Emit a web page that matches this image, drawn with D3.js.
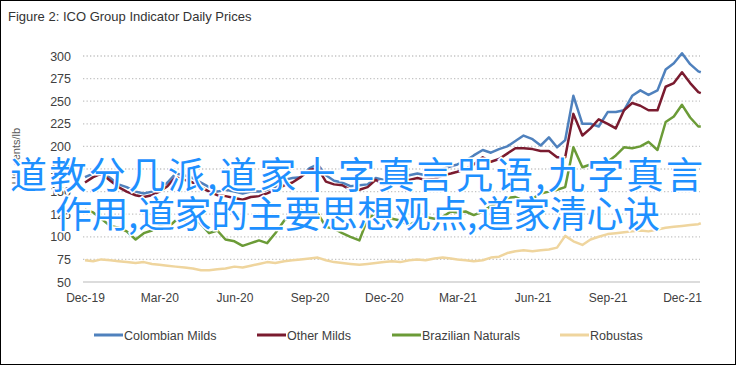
<!DOCTYPE html>
<html>
<head>
<meta charset="utf-8">
<script src="https://cdn.jsdelivr.net/npm/d3@7"></script>
<style>
  body { margin: 0; background: #fff; }
  svg { display: block; font-family: "Liberation Sans", Arial, sans-serif; }
</style>
</head>
<body>
<svg id="chart" width="736" height="365"></svg>
<script>
const dates = [
  '2019-12-01','2019-12-11','2019-12-21',
  '2020-01-01','2020-01-11','2020-01-21','2020-02-01','2020-02-11','2020-02-21',
  '2020-03-01','2020-03-11','2020-03-21','2020-04-01','2020-04-11','2020-04-21',
  '2020-05-01','2020-05-11','2020-05-21','2020-06-01','2020-06-11','2020-06-21',
  '2020-07-01','2020-07-11','2020-07-21','2020-08-01','2020-08-11','2020-08-21',
  '2020-09-01','2020-09-11','2020-09-21','2020-10-01','2020-10-11','2020-10-21',
  '2020-11-01','2020-11-11','2020-11-21','2020-12-01','2020-12-11','2020-12-21',
  '2021-01-01','2021-01-11','2021-01-21','2021-02-01','2021-02-11','2021-02-21',
  '2021-03-01','2021-03-11','2021-03-21','2021-04-01','2021-04-11','2021-04-21',
  '2021-05-01','2021-05-11','2021-05-21','2021-06-01','2021-06-11','2021-06-21',
  '2021-07-01','2021-07-11','2021-07-21','2021-08-01','2021-08-11','2021-08-21',
  '2021-09-01','2021-09-11','2021-09-21','2021-10-01','2021-10-11','2021-10-21',
  '2021-11-01','2021-11-11','2021-11-21','2021-12-01','2021-12-11','2021-12-21',
  '2021-12-24'
];

const colombianMilds = [
  166, 170, 172,
  165, 158, 155, 150, 148, 150, 153, 160, 170, 168, 165, 160, 155, 150, 152,
  150, 148, 150, 150, 152, 155, 163, 165, 166, 176, 180, 168, 162, 160, 156,
  157, 158, 165, 163, 165, 167,
  168, 170, 168, 170, 175, 178, 180, 184, 190, 196, 193, 197, 200, 206, 212,
  208, 201, 210, 199, 207, 256, 225, 225, 222, 238, 238, 240, 256, 262, 257,
  262, 285, 292, 303, 291, 283, 282
];

const otherMilds = [
  160, 166, 170,
  162, 155, 150, 146, 144, 146, 150, 156, 166, 163, 160, 155, 150, 146, 145,
  143, 141, 144, 145, 148, 152, 157, 160, 166, 174, 176, 161, 158, 157, 152,
  152, 155, 163, 158, 160, 162,
  163, 165, 163, 164, 168, 170, 172, 175, 180, 188, 183, 186, 192, 198, 198,
  197, 195, 195, 188, 188, 236, 212, 220, 230, 225, 220, 240, 248, 245, 240,
  240, 266, 270, 282, 270, 260, 259
];

const brazilianNaturals = [
  130, 127, 120,
  112, 110, 106, 97, 104, 107, 112, 110, 118, 118, 124, 114, 104, 107, 97,
  95, 90, 93, 96, 93, 104, 118, 124, 130, 124, 126, 111, 109, 104, 100,
  96, 120, 126, 120, 120, 118,
  113, 118, 122, 120, 122, 128, 127, 128, 124, 128, 134, 138, 143, 144, 140,
  142, 148, 150, 152, 155, 199, 177, 180, 182, 183, 190, 199, 198, 200, 205,
  196, 227, 233, 246, 232, 222, 222
];

const robustas = [
  74, 73, 75,
  74, 73, 72, 71, 72, 70, 69, 68, 67, 66, 65, 63, 63, 64, 65,
  67, 66, 68, 70, 72, 71, 73, 74, 75, 76, 77, 74, 72, 71, 70,
  69, 70, 71, 72, 73, 72,
  74, 75, 74, 76, 77, 76, 75, 74, 73, 74, 77, 78, 82, 84, 85,
  84, 85, 86, 88, 101, 95, 91, 97, 100, 103, 104, 105, 106, 107, 106,
  108, 110, 111, 112, 113, 114, 115
];

const seriesNames = ['Colombian Milds', 'Other Milds', 'Brazilian Naturals', 'Robustas'];
const seriesColors = ['#4f81bd', '#7a1b2f', '#6b9b37', '#efd59e'];
const yTicks = [50, 75, 100, 125, 150, 175, 200, 225, 250, 275, 300];
const xTickLabels = ['Dec-19', 'Mar-20', 'Jun-20', 'Sep-20', 'Dec-20', 'Mar-21', 'Jun-21', 'Sep-21', 'Dec-21'];

const title = 'Figure 2: ICO Group Indicator Daily Prices';
const yLabel = 'US cents/lb';
const overlayLines = ['道教分几派,道家十字真言咒语,九字真言', '作用,道家的主要思想观点,道家清心诀'];

const parse = d3.timeParse('%Y-%m-%d');
const parseTick = d3.timeParse('%b-%y');
const allSeries = [colombianMilds, otherMilds, brazilianNaturals, robustas];

const svg = d3.select('#chart');

svg.append('rect')
  .attr('x', 0.5).attr('y', 0.5)
  .attr('width', 735).attr('height', 364)
  .attr('fill', '#fff')
  .attr('stroke', '#000');

svg.append('text')
  .attr('x', 8).attr('y', 21)
  .attr('font-size', 13)
  .attr('fill', '#333')
  .text(title);

const x = d3.scaleTime()
  .domain([parse('2019-12-01'), parse('2021-12-01')])
  .range([85, 682]);

const y = d3.scaleLinear()
  .domain([50, 300])
  .range([282, 56]);

// dotted gridlines
svg.append('g')
  .selectAll('line')
  .data(yTicks.filter(t => t > 50))
  .join('line')
  .attr('x1', 83).attr('x2', 700)
  .attr('y1', d => y(d)).attr('y2', d => y(d))
  .attr('stroke', '#c4c4c4')
  .attr('stroke-width', 1.3)
  .attr('stroke-dasharray', '1.3,2.2');

// bottom axis line
svg.append('line')
  .attr('x1', 83).attr('x2', 700)
  .attr('y1', y(50)).attr('y2', y(50))
  .attr('stroke', '#d0d0d0')
  .attr('stroke-width', 1.5);

const yAxis = d3.axisLeft(y).tickValues(yTicks).tickSize(0).tickPadding(0);
svg.append('g')
  .attr('transform', 'translate(71,0)')
  .call(yAxis)
  .call(g => g.select('.domain').remove())
  .call(g => g.selectAll('text').attr('font-size', 12.5).attr('fill', '#404040')
    .attr('font-family', '"Liberation Sans", Arial, sans-serif'));

const xAxis = d3.axisBottom(x)
  .tickValues(xTickLabels.map(parseTick))
  .tickFormat(d3.timeFormat('%b-%y'))
  .tickSize(0).tickPadding(0);
svg.append('g')
  .attr('transform', 'translate(0,' + 293 + ')')
  .call(xAxis)
  .call(g => g.select('.domain').remove())
  .call(g => g.selectAll('text').attr('font-size', 12).attr('fill', '#404040')
    .attr('font-family', '"Liberation Sans", Arial, sans-serif'));

svg.append('text')
  .attr('transform', 'translate(20,156) rotate(-90)')
  .attr('text-anchor', 'middle')
  .attr('font-size', 11)
  .attr('fill', '#595959')
  .text(yLabel);

const line = d3.line()
  .x((d, i) => x(parse(dates[i])))
  .y(d => y(d));

allSeries.forEach((values, k) => {
  svg.append('path')
    .datum(values)
    .attr('d', line)
    .attr('fill', 'none')
    .attr('stroke', seriesColors[k])
    .attr('stroke-width', 2.5)
    .attr('stroke-linejoin', 'round');
});

// legend
const legendX = [94, 257, 392, 560];
const legend = svg.append('g');
seriesNames.forEach((name, k) => {
  legend.append('line')
    .attr('x1', legendX[k]).attr('x2', legendX[k] + 29)
    .attr('y1', 335).attr('y2', 335)
    .attr('stroke', seriesColors[k])
    .attr('stroke-width', 3);
  legend.append('text')
    .attr('x', legendX[k] + 30).attr('y', 339.5)
    .attr('font-size', 12.5)
    .attr('fill', '#404040')
    .text(name);
});

// overlaid caption text
const overlayX = [10, 55];
const overlayWidth = [693, 605];
svg.append('g')
  .selectAll('text')
  .data(overlayLines)
  .join('text')
  .attr('x', (d, i) => overlayX[i])
  .attr('y', (d, i) => 189 + i * 39)
  .attr('textLength', (d, i) => overlayWidth[i])
  .attr('lengthAdjust', 'spacing')
  .attr('font-family', '"Noto Sans CJK SC", sans-serif')
  .attr('font-size', 37)
  .attr('fill', '#1e90ff')
  .attr('stroke', '#fff')
  .attr('stroke-width', 3)
  .attr('paint-order', 'stroke')
  .text(d => d);
</script>
</body>
</html>
